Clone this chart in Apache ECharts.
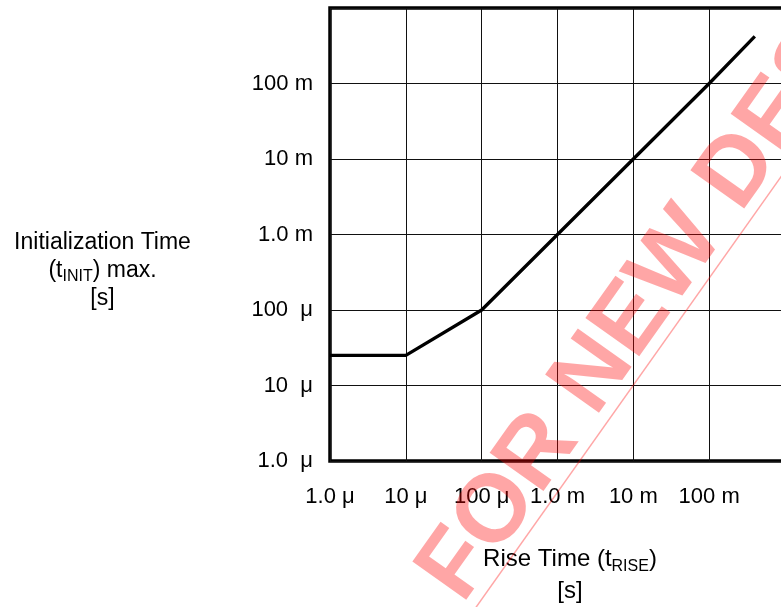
<!DOCTYPE html>
<html>
<head>
<meta charset="utf-8">
<script src="https://cdn.jsdelivr.net/npm/echarts@6/dist/echarts.min.js"></script>
<style>
html,body{margin:0;padding:0;background:#fff;}
#c{width:781px;height:607px;}
</style>
</head>
<body>
<div id="c"></div>
<script>
// Data (seconds)
var riseTime = [1e-6, 1e-5, 1e-4, 1e-3, 1e-2, 1e-1, 0.4];
var initTime = [25e-6, 25e-6, 1e-4, 1e-3, 1e-2, 1e-1, 0.42];
var xTickLabels = ['1.0 \u03bc', '10 \u03bc', '100 \u03bc', '1.0 m', '10 m', '100 m', ''];
var yTickLabels = ['1.0  \u03bc', '10  \u03bc', '100  \u03bc', '1.0 m', '10 m', '100 m', ''];
var watermark = 'FOR NEW DESIGNS';

var FONT = '"Liberation Sans", Arial, sans-serif';
var chart = echarts.init(document.getElementById('c'), null, {renderer: 'canvas'});

function lbl(arr) {
  return function (v) {
    var i = Math.round(Math.log10(v)) + 6;
    return arr[i] != null ? arr[i] : '';
  };
}

var seriesData = riseTime.map(function (x, i) { return [x, initTime[i]]; });

// watermark laid out letter by letter along a rotated baseline
var ADV = {F:.611, O:.778, R:.722, ' ':.278, N:.722, E:.667, W:.944, D:.722, S:.667, I:.278, G:.778};
var WM_SIZE = 96, WM_ANGLE = 54.6 * Math.PI / 180;
var wmStart = [468, 609];
var cosA = Math.cos(WM_ANGLE), sinA = Math.sin(WM_ANGLE);
var wmColor = 'rgba(255,0,0,0.35)';
var wmEls = [];
var s = 0;
for (var k = 0; k < watermark.length; k++) {
  var ch = watermark.charAt(k);
  if (ch !== ' ') {
    var bx = wmStart[0] + s * cosA, by = wmStart[1] - s * sinA;
    var off = 0.3465 * WM_SIZE;
    wmEls.push({
      type: 'text', z: 100,
      x: bx - off * sinA, y: by - off * cosA,
      rotation: WM_ANGLE,
      style: {
        text: ch, fontFamily: 'Liberation Sans', fontWeight: 'bold', fontSize: WM_SIZE,
        fill: wmColor, align: 'left', verticalAlign: 'middle'
      }
    });
  }
  s += (ADV[ch] || 0.7) * WM_SIZE;
}
wmEls.push({
  type: 'line', z: 100,
  shape: {x1: 467, y1: 620, x2: 790, y2: 164},
  style: {stroke: wmColor, lineWidth: 1.5}
});

chart.setOption({
  animation: false,
  backgroundColor: '#fff',
  grid: {
    left: 330, top: 8, width: 455, height: 453,
    show: true, borderColor: '#000', borderWidth: 3.5, backgroundColor: 'transparent',
    containLabel: false,
    outerBoundsMode: 'none'
  },
  xAxis: {
    type: 'log', logBase: 10, min: 1e-6, max: 1, interval: 1,
    axisLine: {show: false},
    axisTick: {show: false},
    minorTick: {show: false},
    splitLine: {show: true, lineStyle: {color: '#111', width: 1}},
    axisLabel: {
      formatter: lbl(xTickLabels), margin: 25,
      color: '#000', fontSize: 22, fontFamily: FONT
    }
  },
  yAxis: {
    type: 'log', logBase: 10, min: 1e-6, max: 1, interval: 1,
    axisLine: {show: false},
    axisTick: {show: false},
    minorTick: {show: false},
    splitLine: {show: true, lineStyle: {color: '#111', width: 1}},
    axisLabel: {
      formatter: lbl(yTickLabels), margin: 17,
      color: '#000', fontSize: 22, fontFamily: FONT
    }
  },
  series: [{
    type: 'line',
    data: seriesData,
    symbol: 'none',
    lineStyle: {color: '#000', width: 3.3},
    z: 5
  }],
  graphic: [
    {
      type: 'text', x: 102.5, y: 271, z: 10,
      style: {
        text: 'Initialization Time\n(t{sub|INIT}) max.\n[s]',
        font: '23px ' + FONT,
        fill: '#000',
        lineHeight: 28,
        align: 'center', verticalAlign: 'middle',
        rich: {
          sub: {fontSize: 16, fontFamily: FONT, verticalAlign: 'bottom', fill: '#000'}
        }
      }
    },
    {
      type: 'text', x: 570, y: 575, z: 10,
      style: {
        text: 'Rise Time (t{sub|RISE})\n[s]',
        font: '24px ' + FONT,
        fill: '#000',
        lineHeight: 32,
        align: 'center', verticalAlign: 'middle',
        rich: {
          sub: {fontSize: 16, fontFamily: FONT, verticalAlign: 'bottom', fill: '#000'}
        }
      }
    }
  ].concat(wmEls)
});
</script>
</body>
</html>
